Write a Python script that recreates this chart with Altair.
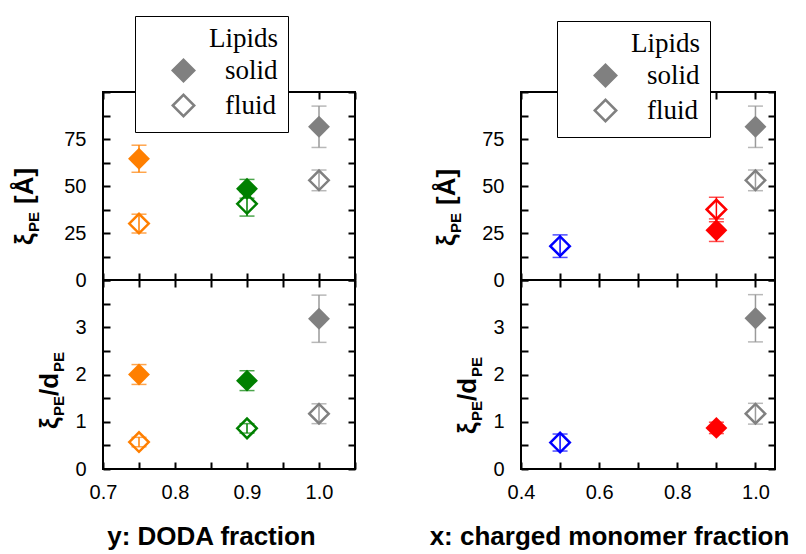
import altair as alt
import pandas as pd

# ---------------- data ----------------
# Left column: y = DODA fraction
doda_x = [0.75, 0.90, 1.00]
doda_colors = ["#ff7f00", "#008000", "#808080"]
doda_err_colors = ["#ff7f00", "#008000", "#9a9a9a"]
doda_xi_solid = [64.5, 48.5, 81.5]
doda_xi_solid_err = [7.2, 5.0, 11.0]
doda_xi_fluid = [30.0, 40.5, 53.0]
doda_xi_fluid_err = [5.0, 6.5, 5.5]
doda_ratio_solid = [2.00, 1.87, 3.18]
doda_ratio_solid_err = [0.21, 0.21, 0.50]
doda_ratio_fluid = [0.57, 0.86, 1.17]
doda_ratio_fluid_err = [0.10, 0.10, 0.21]

# Right column: x = charged monomer fraction
chg_solid_x = [0.90, 1.00]
chg_solid_colors = ["#ff0000", "#808080"]
chg_solid_err_colors = ["#ff0000", "#9a9a9a"]
chg_xi_solid = [26.5, 81.5]
chg_xi_solid_err = [6.0, 11.0]
chg_ratio_solid = [0.87, 3.19]
chg_ratio_solid_err = [0.12, 0.50]

chg_fluid_x = [0.50, 0.90, 1.00]
chg_fluid_colors = ["#0000ff", "#ff0000", "#808080"]
chg_fluid_err_colors = ["#0000ff", "#ff0000", "#9a9a9a"]
chg_xi_fluid = [18.0, 37.5, 53.0]
chg_xi_fluid_err = [6.0, 6.5, 5.5]

chg_ratio_fluid_x = [0.50, 1.00]
chg_ratio_fluid_colors = ["#0000ff", "#808080"]
chg_ratio_fluid_err_colors = ["#0000ff", "#9a9a9a"]
chg_ratio_fluid = [0.56, 1.17]
chg_ratio_fluid_err = [0.18, 0.22]

lipid_phases = ["solid", "fluid"]
lipid_colors = ["#808080", "white"]

xi_ticks = [0, 12.5, 25, 37.5, 50, 62.5, 75, 87.5, 100]
ratio_ticks = [0, 0.5, 1, 1.5, 2, 2.5, 3, 3.5, 4]
doda_ticks = [0.70, 0.75, 0.80, 0.85, 0.90, 0.95, 1.00, 1.05]
chg_ticks = [0.4, 0.5, 0.6, 0.7, 0.8, 0.9, 1.0]

FONT = "Liberation Sans"
SERIF = "Liberation Serif"


def series(xs, ys, errs, cols, ecols, phase):
    return pd.DataFrame({
        "x": xs, "y": ys,
        "lo": [a - b for a, b in zip(ys, errs)],
        "hi": [a + b for a, b in zip(ys, errs)],
        "col": cols, "ecol": ecols, "phase": [phase] * len(xs),
    })


def axis(orient, values, labels=False, expr=None, title=None, titleX=None):
    kw = dict(orient=orient, values=values, offset=-7, tickSize=7, tickWidth=2,
              tickColor="black", domain=False, grid=False, labels=labels,
              minExtent=0, title=title)
    if labels:
        kw.update(labelExpr=expr, labelFont=FONT, labelFontSize=20, labelColor="black",
                  labelPadding=17 if orient == "left" else 13, labelFlush=False,
                  labelOverlap=False)
    if title is not None:
        kw.update(titleFont=FONT, titleFontSize=26, titleFontWeight="bold",
                  titleColor="black", titlePadding=21)
        if titleX is not None:
            kw.update(titleX=titleX, titleAlign="center")
    return alt.Axis(**kw)


def ytitle(pieces, x0, y0):
    layers = []
    for txt, size, dx, dy in pieces:
        layers.append(
            alt.Chart(pd.DataFrame({"t": [txt]})).mark_text(
                angle=270, align="left", baseline="alphabetic", font=FONT,
                fontSize=size, fontWeight="bold", color="black", dx=dx, dy=dy
            ).encode(x=alt.value(x0), y=alt.value(y0), text="t:N")
        )
    return layers


XI_PIECES = [("ξ", 26, 0, 0), ("PE", 15, 13, 6), ("[Å]", 26, 41, 0)]
RATIO_PIECES = [("ξ", 26, 0, 0), ("PE", 15, 13, 6), ("/d", 26, 33, 0), ("PE", 15, 57, 6)]


def panel(solid, fluid, xdom, ydom, xvals, yvals, xexpr, yexpr, bottom_labels,
          xtitle, xtitleX, w, h, legend_xy, pieces, title_xy):
    xs = alt.Scale(domain=xdom, nice=False, zero=False)
    ys = alt.Scale(domain=ydom, nice=False, zero=False)
    allp = pd.concat([solid, fluid], ignore_index=True)

    err = alt.Chart(allp).mark_errorbar(
        ticks={"size": 15, "thickness": 1.5}, thickness=1.5
    ).encode(
        x=alt.X("x:Q", scale=xs, axis=None),
        y=alt.Y("lo:Q", scale=ys, axis=None),
        y2="hi:Q",
        color=alt.Color("ecol:N", scale=None),
    )
    if bottom_labels:
        bax = axis("bottom", xvals, labels=True, expr=xexpr, title=xtitle, titleX=xtitleX)
    else:
        bax = axis("bottom", xvals)
    fl = alt.Chart(fluid).mark_point(
        shape="diamond", filled=False, size=380, strokeWidth=2.5, opacity=1
    ).encode(
        x=alt.X("x:Q", scale=xs, axis=bax),
        y=alt.Y("y:Q", scale=ys, axis=axis("left", yvals, labels=True, expr=yexpr)),
        color=alt.Color("col:N", scale=None),
    )
    so = alt.Chart(solid).mark_point(
        shape="diamond", filled=True, size=480, opacity=1
    ).encode(
        x=alt.X("x:Q", scale=xs, axis=axis("top", xvals)),
        y=alt.Y("y:Q", scale=ys, axis=axis("right", yvals)),
        color=alt.Color("col:N", scale=None),
    )
    layers = [err, fl, so]
    if legend_xy is not None:
        leg = alt.Chart(allp).mark_point(
            shape="diamond", filled=True, opacity=0, stroke="#808080", strokeWidth=2.5
        ).encode(
            x=alt.X("x:Q", scale=xs, axis=None),
            y=alt.Y("y:Q", scale=ys, axis=None),
            fill=alt.Fill(
                "phase:N",
                scale=alt.Scale(domain=lipid_phases, range=lipid_colors),
                legend=alt.Legend(
                    title="Lipids", orient="none", legendX=legend_xy[0], legendY=legend_xy[1],
                    direction="vertical", fillColor="white", strokeColor="black",
                    padding=10, titleFont=SERIF, titleFontSize=27, titleFontWeight="normal",
                    titleColor="black", titleAnchor="end", titlePadding=4,
                    labelFont=SERIF, labelFontSize=27, labelColor="black", labelOffset=28,
                    symbolType="diamond", symbolSize=460, symbolStrokeColor="#808080",
                    symbolStrokeWidth=2.5, symbolOffset=25, symbolOpacity=1, rowPadding=2,
                ),
            ),
        )
        layers.append(leg)
    layers += ytitle(pieces, title_xy[0], title_xy[1])
    return alt.layer(*layers).resolve_axis(x="independent", y="independent").properties(
        width=w, height=h
    )


doda_solid_xi = series(doda_x, doda_xi_solid, doda_xi_solid_err, doda_colors, doda_err_colors, "solid")
doda_fluid_xi = series(doda_x, doda_xi_fluid, doda_xi_fluid_err, doda_colors, doda_err_colors, "fluid")
doda_solid_r = series(doda_x, doda_ratio_solid, doda_ratio_solid_err, doda_colors, doda_err_colors, "solid")
doda_fluid_r = series(doda_x, doda_ratio_fluid, doda_ratio_fluid_err, doda_colors, doda_err_colors, "fluid")

chg_solid_xi = series(chg_solid_x, chg_xi_solid, chg_xi_solid_err, chg_solid_colors, chg_solid_err_colors, "solid")
chg_fluid_xi = series(chg_fluid_x, chg_xi_fluid, chg_xi_fluid_err, chg_fluid_colors, chg_fluid_err_colors, "fluid")
chg_solid_r = series(chg_solid_x, chg_ratio_solid, chg_ratio_solid_err, chg_solid_colors, chg_solid_err_colors, "solid")
chg_fluid_r = series(chg_ratio_fluid_x, chg_ratio_fluid, chg_ratio_fluid_err, chg_ratio_fluid_colors,
                     chg_ratio_fluid_err_colors, "fluid")

XI_EXPR = "(datum.value % 25 == 0 && datum.value < 100) ? format(datum.value, 'd') : ''"
R_EXPR = "(datum.value % 1 == 0 && datum.value < 4) ? format(datum.value, 'd') : ''"
DODA_EXPR = "(abs(datum.value * 10 - round(datum.value * 10)) < 0.001 && datum.value < 1.04) ? format(datum.value, '.1f') : ''"
CHG_EXPR = "(round(datum.value * 10) % 2 == 0) ? format(datum.value, '.1f') : ''"

tl = panel(doda_solid_xi, doda_fluid_xi, [0.7, 1.05], [0, 100], doda_ticks, xi_ticks, DODA_EXPR, XI_EXPR,
           False, None, None, 252, 188, (32, -76), XI_PIECES, (-70, 153))
bl = panel(doda_solid_r, doda_fluid_r, [0.7, 1.05], [0, 4], doda_ticks, ratio_ticks, DODA_EXPR, R_EXPR,
           True, "y: DODA fraction", 108, 252, 189, None, RATIO_PIECES, (-45, 149))
tr = panel(chg_solid_xi, chg_fluid_xi, [0.4, 1.05], [0, 100], chg_ticks, xi_ticks, CHG_EXPR, XI_EXPR,
           False, None, None, 254, 188, (36, -71), XI_PIECES, (-66, 154))
br = panel(chg_solid_r, chg_fluid_r, [0.4, 1.05], [0, 4], chg_ticks, ratio_ticks, CHG_EXPR, R_EXPR,
           True, "x: charged monomer fraction", 88, 254, 189, None, RATIO_PIECES, (-45, 154))

left = alt.vconcat(tl, bl, spacing=0, bounds="flush").resolve_scale(
    fill="independent").resolve_legend(fill="independent")
right = alt.vconcat(tr, br, spacing=0, bounds="flush").resolve_scale(
    fill="independent").resolve_legend(fill="independent")

# nested flush concat groups count as zero width, so spacing = left panel width + gap
chart = alt.hconcat(left, right, spacing=252 + 166, bounds="flush").resolve_scale(
    fill="independent"
).resolve_legend(fill="independent").properties(
    padding={"left": 3, "top": 6, "right": 2, "bottom": 2}
).configure_view(stroke="black", strokeWidth=2).configure_axis(grid=False)

chart.save("out.html", embed_options={"renderer": "svg", "actions": False})
